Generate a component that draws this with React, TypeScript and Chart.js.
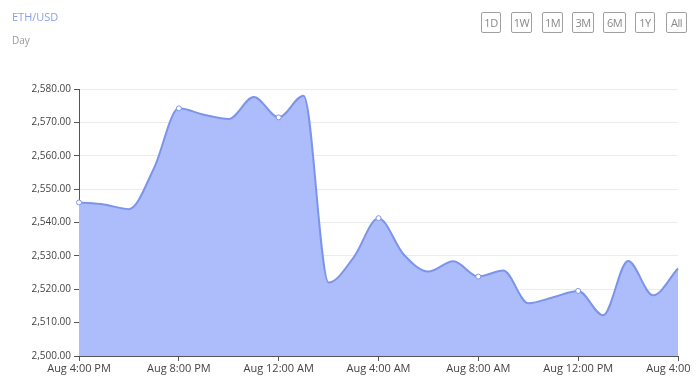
import React, { useEffect, useRef } from "react";
import { Chart, registerables } from "chart.js";

Chart.register(...registerables);

const timeLabels = [
  "Aug 4:00 PM", "Aug 5:00 PM", "Aug 6:00 PM", "Aug 7:00 PM",
  "Aug 8:00 PM", "Aug 9:00 PM", "Aug 10:00 PM", "Aug 11:00 PM",
  "Aug 12:00 AM", "Aug 1:00 AM", "Aug 2:00 AM", "Aug 3:00 AM",
  "Aug 4:00 AM", "Aug 5:00 AM", "Aug 6:00 AM", "Aug 7:00 AM",
  "Aug 8:00 AM", "Aug 9:00 AM", "Aug 10:00 AM", "Aug 11:00 AM",
  "Aug 12:00 PM", "Aug 1:00 PM", "Aug 2:00 PM", "Aug 3:00 PM",
  "Aug 4:00 PM",
];

const prices = [
  2546.0, 2545.4, 2544.0, 2556.2, 2574.2, 2572.3, 2571.0, 2577.6,
  2571.5, 2578.0, 2522.0, 2529.5, 2541.3, 2530.5, 2525.3, 2528.4,
  2523.8, 2525.6, 2515.8, 2517.6, 2519.5, 2512.2, 2528.5, 2518.2,
  2526.2,
];

const rangeButtons = ["1D", "1W", "1M", "3M", "6M", "1Y", "All"];
const buttonLefts = [473, 503, 534, 564, 595, 627, 658];
const buttonWidths = [20, 21, 21, 22, 23, 20, 21];

const yMin = 2500;
const yMax = 2580;
const yStep = 10;

const FONT = "'Open Sans', 'Noto Sans', sans-serif";

export default function App() {
  const canvasRef = useRef<HTMLCanvasElement | null>(null);

  useEffect(() => {
    const canvas = canvasRef.current;
    if (!canvas) return;
    const chart = new Chart(canvas, {
      type: "line",
      data: {
        labels: timeLabels,
        datasets: [
          {
            data: prices,
            borderColor: "#7c94ea",
            borderWidth: 2,
            backgroundColor: "#adbdfb",
            fill: "start",
            cubicInterpolationMode: "monotone",
            pointRadius: (ctx: any) =>
              ctx.dataIndex % 4 === 0 && ctx.dataIndex < prices.length - 1 ? 2.5 : 0,
            pointHoverRadius: 0,
            pointBackgroundColor: "#ffffff",
            pointBorderColor: "#7c94ea",
            pointBorderWidth: 1,
          },
        ],
      },
      options: {
        responsive: false,
        animation: false,
        layout: { padding: { top: 81, right: 14, left: 0, bottom: 0 } },
        plugins: {
          legend: { display: false },
          tooltip: { enabled: false },
        },
        scales: {
          x: {
            grid: {
              drawOnChartArea: false,
              drawTicks: true,
              tickLength: 5,
              tickColor: "#555",
            },
            border: { display: true, color: "#555", width: 1 },
            ticks: {
              autoSkip: false,
              maxRotation: 0,
              minRotation: 0,
              padding: 1,
              color: "#444",
              font: { family: FONT, size: 11 },
              callback: function (this: any, val: any, idx: number) {
                return idx % 4 === 0 ? timeLabels[idx] : null;
              },
            },
            afterFit: (scale: any) => {
              scale.height = 24;
              scale.paddingLeft = 0;
              scale.paddingRight = 0;
            },
          },
          y: {
            min: yMin,
            max: yMax,
            grid: {
              color: "#ececec",
              tickLength: 5,
              tickColor: "#555",
            },
            border: { display: true, color: "#555", width: 1 },
            ticks: {
              stepSize: yStep,
              padding: 3,
              color: "#444",
              font: { family: FONT, size: 10 },
              callback: (v: any) =>
                Number(v).toLocaleString("en-US", {
                  minimumFractionDigits: 2,
                  maximumFractionDigits: 2,
                }),
            },
            afterFit: (scale: any) => {
              scale.width = 71;
            },
          },
        },
      },
    } as any);
    return () => chart.destroy();
  }, []);

  return (
    <div style={{ position: "relative", width: 684, height: 372, fontFamily: FONT }}>
      <canvas
        ref={canvasRef}
        width={684}
        height={372}
        style={{ position: "absolute", left: 0, top: 0, width: 684, height: 372 }}
      />
      <div
        style={{
          position: "absolute",
          left: 4,
          top: 1,
          fontSize: 11,
          color: "#8a9fe8",
          lineHeight: "16px",
        }}
      >
        ETH/USD
      </div>
      <div
        style={{
          position: "absolute",
          left: 4,
          top: 24,
          fontSize: 10,
          color: "#999",
          lineHeight: "16px",
        }}
      >
        Day
      </div>
      {rangeButtons.map((b, i) => (
        <div
          key={b}
          style={{
            position: "absolute",
            left: buttonLefts[i],
            top: 4,
            width: buttonWidths[i],
            height: 21,
            boxSizing: "border-box",
            border: "1px solid #a0a0a0",
            borderRadius: 2,
            fontSize: 11,
            color: "#888",
            lineHeight: "19px",
            textAlign: "center",
            letterSpacing: -0.5,
          }}
        >
          {b}
        </div>
      ))}
    </div>
  );
}
